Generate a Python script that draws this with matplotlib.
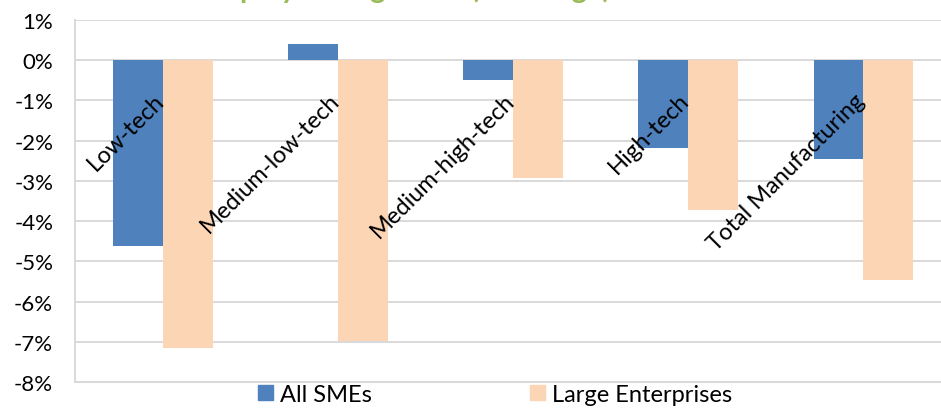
import numpy as np
import matplotlib.pyplot as plt
from matplotlib.patches import Patch

categories = ['Low-tech', 'Medium-low-tech', 'Medium-high-tech', 'High-tech', 'Total Manufacturing']
smes = [-4.63, 0.40, -0.50, -2.19, -2.46]
large = [-7.16, -6.97, -2.94, -3.73, -5.47]
yticks = [1, 0, -1, -2, -3, -4, -5, -6, -7, -8]

blue = '#4f81bd'
peach = '#fcd5b4'
grid = '#d9d9d9'

plt.rcParams['font.family'] = ['Lato', 'DejaVu Sans']

fig = plt.figure(figsize=(9.41, 4.10), dpi=100)
ax = fig.add_axes([0.0801, 0.0659, 0.9305, 0.8829])

x = np.arange(len(categories))
w = 0.285
ax.bar(x - w / 2, smes, w, color=blue, zorder=3)
ax.bar(x + w / 2, large, w, color=peach, zorder=3)

ax.set_xlim(-0.5, len(categories) - 0.5)
ax.set_ylim(-8, 1)
ax.set_yticks(yticks)
ax.set_yticklabels([f'{t}%' for t in yticks], fontsize=16)
ax.tick_params(axis='y', length=0, pad=16)
ax.set_xticks([])
ax.grid(axis='y', color=grid, linewidth=1.4, zorder=0)
for side in ['top', 'right']:
    ax.spines[side].set_visible(False)
for side in ['left', 'bottom']:
    ax.spines[side].set_color(grid)
    ax.spines[side].set_linewidth(1.4)

# category names sit just under the zero line, slanted
for i, name in enumerate(categories):
    ax.annotate(name, (i, 0), xytext=(5, -29), textcoords='offset pixels',
                ha='right', va='top', rotation=45, fontsize=17, zorder=4)

# title runs off the top edge
fig.text(0.649, 1.004, 'Employment growth (% change)', ha='right', va='baseline',
         color='#9bbb59', fontsize=21, fontweight='bold')

handles = [Patch(color=blue, label='All SMEs'), Patch(color=peach, label='Large Enterprises')]
fig.legend(handles=handles, loc='center', bbox_to_anchor=(0.526, 0.036), ncol=2,
           frameon=False, fontsize=17, handlelength=0.64, handleheight=0.64,
           handletextpad=0.3, columnspacing=6.7, borderpad=0, borderaxespad=0)

fig.savefig('out.png', dpi=100)
